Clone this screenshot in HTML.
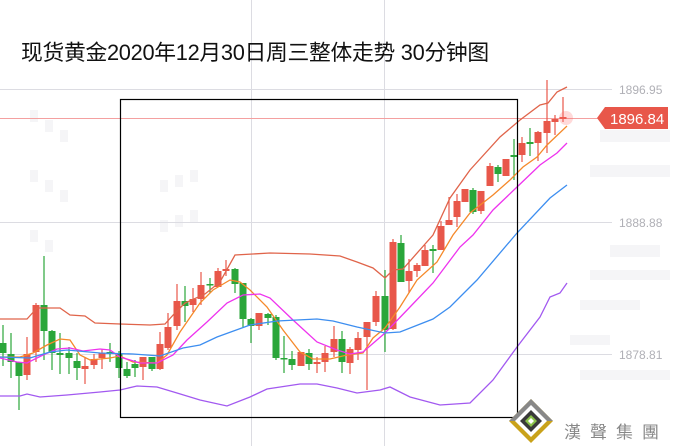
<!DOCTYPE html>
<html><head><meta charset="utf-8">
<style>
html,body{margin:0;padding:0;background:#fff;}
#w{position:relative;width:673px;height:446px;overflow:hidden;font-family:"Liberation Sans","Noto Sans CJK SC",sans-serif;}
#t{position:absolute;left:21px;top:36px;font-size:21.8px;color:#111;font-family:"Liberation Sans","Noto Sans CJK SC",sans-serif;letter-spacing:-0.3px;white-space:nowrap}
</style></head><body>
<div id="w">
<svg id="s" width="673" height="446" xmlns="http://www.w3.org/2000/svg" style="position:absolute;left:0;top:0">
<g fill="#f5f5f7">
<rect x="600" y="130" width="70" height="12"/><rect x="590" y="165" width="80" height="12"/><rect x="610" y="245" width="50" height="12"/><rect x="590" y="270" width="80" height="10"/><rect x="580" y="300" width="60" height="10"/><rect x="570" y="335" width="40" height="10"/><rect x="580" y="370" width="90" height="10"/>
<rect x="30" y="110" width="8" height="12"/><rect x="45" y="120" width="8" height="12"/><rect x="60" y="130" width="8" height="12"/><rect x="30" y="170" width="8" height="12"/><rect x="45" y="180" width="8" height="12"/><rect x="60" y="190" width="8" height="12"/><rect x="30" y="230" width="8" height="12"/><rect x="45" y="240" width="8" height="12"/>
<rect x="160" y="180" width="8" height="12"/><rect x="175" y="175" width="8" height="12"/><rect x="190" y="170" width="8" height="12"/><rect x="160" y="220" width="8" height="12"/><rect x="175" y="215" width="8" height="12"/><rect x="190" y="210" width="8" height="12"/>
</g>
<g stroke="#dcdce2" stroke-width="1">
<line x1="0" y1="89.5" x2="612" y2="89.5"/><line x1="0" y1="222.5" x2="612" y2="222.5"/><line x1="0" y1="354.5" x2="612" y2="354.5"/>
<line x1="251.5" y1="0" x2="251.5" y2="446"/><line x1="384.5" y1="0" x2="384.5" y2="446"/>
</g>
<g font-size="12" fill="#b0b0b6" font-family="Liberation Sans,sans-serif">
<text x="619" y="94">1896.95</text><text x="619" y="227">1888.88</text><text x="619" y="359">1878.81</text>
</g>
<line x1="0" y1="118.5" x2="600" y2="118.5" stroke="#f4a0a0" stroke-width="1"/>
<g id="cd"></g>
<g id="ln" fill="none" stroke-width="1.3"></g>
<rect x="120.5" y="99.5" width="397" height="318" fill="none" stroke="#000" stroke-width="1.2"/>
<circle cx="566" cy="118" r="7" fill="#f66" opacity="0.25"/>
<polygon points="597,118 605,107 668,107 668,129 605,129" fill="#e8574a"/>
<text x="610" y="124" font-size="15" fill="#fff" font-family="Liberation Sans,sans-serif">1896.84</text>
<g transform="translate(531,421)">
<polygon points="0,-22 22,0 0,22 -22,0" fill="#c9a21a"/>
<polygon points="0,-22 22,0 0,0 -22,0" fill="#888"/>
<polygon points="0,-16 16,0 0,16 -16,0" fill="#fff"/>
<polygon points="0,-11 11,0 0,11 -11,0" fill="#3a3a3a"/>
<polygon points="0,-6 6,0 0,6 -6,0" fill="#8bc34a"/>
<polygon points="0,-3 3,0 0,3 -3,0" fill="#fff"/>
</g>
<text x="564" y="438" font-size="17" fill="#888" letter-spacing="9" font-family="Noto Sans CJK TC,sans-serif">漢聲集團</text>
</svg>
<div id="t">现货黄金2020年12月30日周三整体走势 30分钟图</div>
</div>
<script>
var C=[
[3,'g',343,353,325,366],[11,'g',354,362,333,378],[19,'g',362,376,362,410],[27,'r',354,375,337,380],[36,'r',305,352,303,362],[44,'g',305,331,256,360],[52,'g',331,353,330,370],[60,'g',353,355,333,374],[69,'g',353,358,347,374],[77,'g',361,368,353,380],[85,'r',366,369,357,384],[94,'r',359,365,354,369],[102,'r',353,358,349,369],[110,'g',352,354,343,362],[119,'g',354,368,351,378],[127,'g',369,376,362,378],[135,'g',364,368,360,377],[143,'r',357,367,357,380],[152,'g',357,369,357,371],[160,'r',344,369,332,370],
[168,'r',327,348,313,350],[177,'r',301,326,284,330],[185,'g',301,306,286,322],[193,'r',299,305,288,312],[201,'r',285,299,272,305],[210,'g',284,285,278,293],[218,'r',271,287,268,287],[226,'r',269,271,260,276],[235,'g',269,284,268,293],[243,'g',283,319,283,327],[251,'g',319,326,318,343],[259,'r',313,326,313,330],[268,'g',314,318,313,325],[276,'g',317,358,315,360],[284,'g',358,359,336,373],[292,'g',359,365,351,370],[301,'r',352,366,352,366],[309,'g',353,364,349,370],[317,'r',362,364,357,373],[325,'r',353,362,346,372],[334,'r',339,352,326,357],[342,'g',339,362,331,373],[350,'r',349,363,347,374],[358,'r',338,350,332,360],[367,'r',322,337,322,390],[376,'r',296,322,291,326],[385,'g',296,330,270,352],
[393,'r',242,329,239,330],[401,'g',243,282,235,282],[409,'r',271,281,259,293],[417,'r',265,271,263,277],[425,'r',250,266,245,266],[433,'g',249,251,245,273],[441,'r',226,250,221,250],[449,'r',220,225,197,225],[457,'r',201,217,194,227],[465,'r',189,202,189,202],[473,'g',190,212,188,214],[481,'r',191,211,191,214],[490,'r',166,186,163,186],[498,'g',167,174,165,182],[506,'r',159,176,159,176],[514,'g',155,157,139,180],[522,'r',143,155,137,162],[530,'g',142,144,128,156],[538,'r',132,143,131,161],[547,'r',121,133,80,153],[555,'r',119,122,115,135],[563,'r',117,119,97,122]];
var h='';
C.forEach(function(c){var col=c[1]=='r'?'#e8574a':'#2aa63a';
h+='<line x1="'+c[0]+'" x2="'+c[0]+'" y1="'+c[4]+'" y2="'+c[5]+'" stroke="'+col+'" stroke-width="1.2"/>';
h+='<rect x="'+(c[0]-3.5)+'" y="'+c[2]+'" width="7" height="'+Math.max(1.5,c[3]-c[2])+'" fill="'+col+'"/>';});
document.getElementById('cd').innerHTML=h;
var L={
'#e0644a':'0,319 27,319 37,308 60,308 70,315 85,316 95,323 120,324 150,325 165,324 175,313 185,303 205,294 220,282 235,255 270,253 310,254 340,256 357,262 373,268 385,278 393,270 403,269 433,235 450,198 470,170 500,137 520,120 540,105 548,103 557,92 567,87',
'#f5892a':'0,357 20,357 33,353 47,345 60,339 70,340 80,355 90,360 110,358 120,356 133,362 157,363 167,355 180,332 200,303 213,290 230,280 240,282 250,290 267,307 283,330 300,352 313,359 330,359 347,355 363,353 373,338 385,328 400,307 417,280 437,262 453,235 470,213 493,195 510,180 523,167 537,157 547,145 567,126',
'#ee33ee':'0,358 17,362 27,363 43,355 57,349 70,348 83,351 100,349 110,350 120,357 140,363 157,363 173,355 187,340 207,322 227,303 243,295 260,294 270,298 293,320 317,342 337,350 350,354 363,352 385,333 410,307 433,283 460,247 473,235 493,210 517,187 540,165 557,153 567,143',
'#3d8ef0':'0,357 30,358 50,352 67,350 100,353 133,354 160,356 183,348 200,345 217,337 250,325 277,321 317,319 333,321 357,327 385,333 400,332 433,319 450,307 477,280 517,233 550,198 567,185',
'#a259f0':'0,396 20,396 27,394 40,397 67,395 100,392 120,390 137,386 157,387 177,393 200,400 227,406 250,397 267,389 300,384 317,384 337,388 357,393 380,390 390,387 410,397 440,405 470,403 493,380 517,347 540,317 550,297 560,293 567,283'};
var g='';for(var k in L)g+='<polyline points="'+L[k]+'" stroke="'+k+'"/>';
document.getElementById('ln').innerHTML=g;
</script>
</body></html>
